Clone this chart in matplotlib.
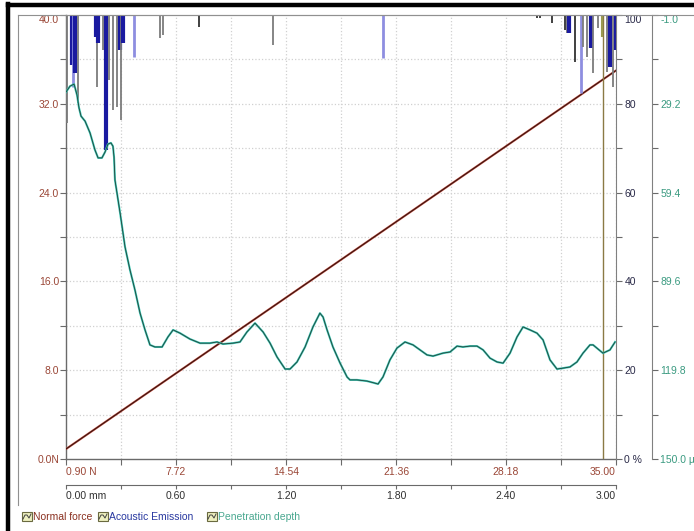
import numpy as np
import matplotlib
matplotlib.use("Agg")
import matplotlib.pyplot as plt
from matplotlib.lines import Line2D
from matplotlib.patches import Rectangle

plt.rcParams['font.family'] = ['Liberation Sans', 'DejaVu Sans']

# ---- data ----
mm_ticks = [0.0, 0.6, 1.2, 1.8, 2.4, 3.0]
mm_labels = ['0.00 mm', '0.60', '1.20', '1.80', '2.40', '3.00']
force_x_labels = ['0.90 N', '7.72', '14.54', '21.36', '28.18', '35.00']
force_ticks = [0, 8, 16, 24, 32, 40]
force_tick_labels = ['0.0N', '8.0', '16.0', '24.0', '32.0', '40.0']
ae_ticks = [0, 20, 40, 60, 80, 100]
ae_tick_labels = ['0 %', '20', '40', '60', '80', '100']
depth_ticks = [-1.0, 29.2, 59.4, 89.6, 119.8, 150.0]
depth_tick_labels = ['-1.0', '29.2', '59.4', '89.6', '119.8', '150.0 \u00b5']

# normal force (N) along the scratch (mm)
force_mm = [0.0, 3.0]
force_N = [0.9, 35.0]

# penetration depth (um) along the scratch (mm)
depth_mm = [0.000, 0.022, 0.044, 0.060, 0.071, 0.082, 0.104, 0.131, 0.158, 0.175,
            0.196, 0.213, 0.229, 0.245, 0.256, 0.262, 0.267, 0.284, 0.295, 0.322,
            0.349, 0.376, 0.404, 0.431, 0.458, 0.485, 0.524, 0.556, 0.584, 0.622,
            0.676, 0.731, 0.785, 0.824, 0.856, 0.911, 0.949, 0.987, 1.031, 1.075,
            1.113, 1.151, 1.195, 1.222, 1.260, 1.304, 1.347, 1.385, 1.402, 1.424,
            1.456, 1.495, 1.533, 1.549, 1.587, 1.642, 1.685, 1.702, 1.729, 1.767,
            1.805, 1.849, 1.893, 1.931, 1.969, 2.002, 2.056, 2.095, 2.133, 2.165,
            2.204, 2.242, 2.275, 2.313, 2.351, 2.384, 2.422, 2.460, 2.493, 2.531,
            2.569, 2.602, 2.640, 2.678, 2.711, 2.749, 2.787, 2.820, 2.858, 2.875,
            2.896, 2.929, 2.967, 2.995]
depth_um = [25.2, 23.2, 22.5, 26.2, 30.6, 33.4, 35.1, 39.1, 44.9, 47.6,
            47.6, 45.6, 42.9, 42.5, 43.6, 47.3, 55.1, 61.9, 66.3, 77.9,
            85.7, 92.5, 100.4, 106.1, 111.2, 111.9, 111.9, 108.5, 106.1, 107.2,
            109.2, 110.6, 110.6, 110.2, 110.9, 110.6, 110.2, 106.8, 103.8, 106.8,
            110.6, 115.3, 119.4, 119.4, 117.0, 111.9, 105.1, 100.4, 101.7, 106.1,
            111.9, 117.4, 122.1, 123.1, 123.1, 123.5, 124.2, 124.5, 122.1, 116.3,
            112.3, 110.2, 111.2, 112.9, 114.6, 115.0, 114.0, 113.6, 111.6, 111.9,
            111.6, 111.6, 112.9, 115.7, 117.0, 117.4, 114.0, 108.5, 105.1, 106.1,
            107.2, 109.5, 116.3, 119.4, 119.1, 118.7, 117.0, 114.0, 111.2, 111.2,
            112.3, 114.0, 112.9, 110.2]

# acoustic emission events: position (mm), level (%) and channel shade
ae_mm = [0.005, 0.033, 0.038, 0.049, 0.065, 0.164, 0.169, 0.175, 0.202, 0.218,
         0.235, 0.256, 0.278, 0.295, 0.300, 0.311, 0.371, 0.513, 0.529, 0.725,
         1.129, 1.729, 2.569, 2.585, 2.651, 2.722, 2.733, 2.744, 2.776, 2.809,
         2.820, 2.842, 2.864, 2.875, 2.902, 2.924, 2.951, 2.967, 2.984, 3.000]
ae_pct = [75.7, 88.7, 83.8, 86.9, 80.2, 95.0, 83.8, 93.7, 92.1, 69.6,
          85.4, 78.6, 79.3, 92.1, 76.4, 93.7, 90.5, 94.8, 95.5, 97.3,
          93.2, 90.3, 99.3, 99.3, 98.2, 96.6, 95.9, 95.9, 89.4, 82.4,
          92.8, 90.5, 92.6, 86.9, 97.1, 95.0, 87.2, 88.3, 83.8, 92.1]
ae_kind = ['g', 'd', 'l', 'd', 'g', 'd', 'g', 'd', 'g', 'd',
           'g', 'g', 'g', 'd', 'g', 'd', 'l', 'g', 'g', 'k',
           'g', 'l', 'k', 'k', 'k', 'k', 'g', 'd', 'k', 'l',
           'g', 'g', 'd', 'g', 'g', 'o', 'g', 'd', 'g', 'd']

cursor_mm = 2.93

# ---- figure ----
W, H = 694, 531
fig = plt.figure(figsize=(W / 100, H / 100), dpi=100)
fig.patch.set_facecolor('white')

x0, x1, y0, y1 = 66, 616, 15, 459
ax = fig.add_axes([x0 / W, 1 - y1 / H, (x1 - x0) / W, (y1 - y0) / H])
ax.set_xlim(0, 3.0)
ax.set_ylim(0, 40)

brown = '#9a4636'
navy = '#2a2a48'
teal = '#3a9a80'
axis_grey = '#6a6a6a'

# grid
for v in np.arange(0.3, 3.0, 0.3):
    ax.axvline(v, color='#d0d0d0', ls=':', lw=0.9, zorder=0)
for v in range(4, 40, 4):
    ax.axhline(v, color='#d0d0d0', ls=':', lw=0.9, zorder=0)

ax.set_yticks(force_ticks, labels=force_tick_labels)
ax.set_yticks(range(4, 40, 8), minor=True)
ax.set_xticks(mm_ticks, labels=force_x_labels)
ax.set_xticks(np.arange(0.3, 3.0, 0.6), minor=True)
ax.tick_params(axis='both', which='both', direction='out', length=4, width=0.8,
               color=axis_grey, labelsize=7.5, labelcolor=brown, pad=2)
ax.tick_params(axis='y', pad=1)
ax.get_yticklabels()[-1].set_va('top')
xl = ax.get_xticklabels()
xl[0].set_ha('left')
xl[-1].set_ha('right')
for s in ['left', 'bottom']:
    ax.spines[s].set_color(axis_grey)
    ax.spines[s].set_linewidth(1.0)
ax.spines['top'].set_color('#9a9a9a')
ax.spines['right'].set_visible(False)

# second x axis in mm
sec = ax.secondary_xaxis(-26 / (y1 - y0))
sec.set_xticks(mm_ticks, labels=mm_labels)
sec.set_xticks(np.arange(0.3, 3.0, 0.6), minor=True)
sec.tick_params(which='both', direction='out', length=3, width=0.8,
                color=axis_grey, labelsize=7.5, labelcolor='#303030', pad=1)
sec.spines['bottom'].set_color(axis_grey)
sl = sec.get_xticklabels()
sl[0].set_ha('left')
sl[-1].set_ha('right')

# normal force
ax.plot(force_mm, force_N, color='#c0483a', lw=1.5, zorder=3)
ax.plot(force_mm, force_N, color='#2e1410', lw=0.7, zorder=4)

# cursor
ax.axvline(cursor_mm, color='#8a7a44', lw=1.0, zorder=5)

# acoustic emission
ax_ae = ax.twinx()
ax_ae.set_ylim(0, 100)
colors = {'d': '#1a1aa0', 'l': '#8e8ee0', 'g': '#7c7c7c', 'k': '#202020', 'o': '#9a9a50'}
widths = {'d': 3.0, 'l': 2.0, 'g': 1.3, 'k': 1.2, 'o': 1.5}
for m, p, k in zip(ae_mm, ae_pct, ae_kind):
    ax_ae.vlines(m, p, 100, color=colors[k], lw=widths[k])
ax_ae.set_yticks(ae_ticks, labels=ae_tick_labels)
ax_ae.set_yticks(range(10, 100, 20), minor=True)
ax_ae.tick_params(axis='y', which='both', direction='out', length=4, width=0.8,
                  color=axis_grey, labelsize=7.5, labelcolor=navy, pad=2)
ax_ae.get_yticklabels()[-1].set_va('top')
for s in ['left', 'top', 'bottom']:
    ax_ae.spines[s].set_visible(False)
ax_ae.spines['right'].set_color('#808080')

# penetration depth
ax_d = ax.twinx()
ax_d.set_ylim(150, -1)
ax_d.spines['right'].set_position(('outward', 26))
ax_d.plot(depth_mm, depth_um, color='#3cc8b4', lw=1.5, zorder=3)
ax_d.plot(depth_mm, depth_um, color='#22403a', lw=0.6, zorder=4)
ax_d.set_yticks(depth_ticks, labels=depth_tick_labels)
ax_d.set_yticks([d + 15.1 for d in depth_ticks[:-1]], minor=True)
ax_d.tick_params(axis='y', which='both', direction='out', length=4, width=0.8,
                 color=axis_grey, labelsize=7.5, labelcolor=teal, pad=2)
ax_d.get_yticklabels()[0].set_va('top')
for s in ['left', 'top', 'bottom']:
    ax_d.spines[s].set_visible(False)
ax_d.spines['right'].set_color('#808080')


def px(x, y):
    return x / W, 1 - y / H


# window frame
fig.add_artist(Line2D([8 / W, 8 / W], [0, 1 - 4 / H], color='black', lw=3.2))
fig.add_artist(Line2D([8 / W, 1], [1 - 5 / H, 1 - 5 / H], color='black', lw=3.2))
fig.add_artist(Line2D([18 / W, 18 / W], [1 - 505 / H, 1 - 15 / H], color='#909090', lw=0.8))
fig.add_artist(Line2D([18 / W, 1], [1 - 15 / H, 1 - 15 / H], color='#909090', lw=0.8))

# legend
legend_items = [('Normal force', '#8a3020', 22), ('Acoustic Emission', '#2838a0', 98),
                ('Penetration depth', '#4aa890', 207)]
for text, col, lx in legend_items:
    bx, by = px(lx, 521)
    fig.add_artist(Rectangle((bx, by), 10 / W, 9 / H, facecolor='#eef0c0',
                             edgecolor='#6a6a40', lw=0.8, transform=fig.transFigure))
    wx = [lx + 1, lx + 3, lx + 5, lx + 7, lx + 9]
    wy = [519, 515, 515, 518, 514]
    fig.add_artist(Line2D([w / W for w in wx], [1 - v / H for v in wy],
                          color='#404040', lw=0.7, transform=fig.transFigure))
    tx, ty = px(lx + 11, 516.5)
    fig.text(tx, ty, text, color=col, fontsize=7.5, va='center', ha='left')

fig.savefig('out.png', dpi=100)
